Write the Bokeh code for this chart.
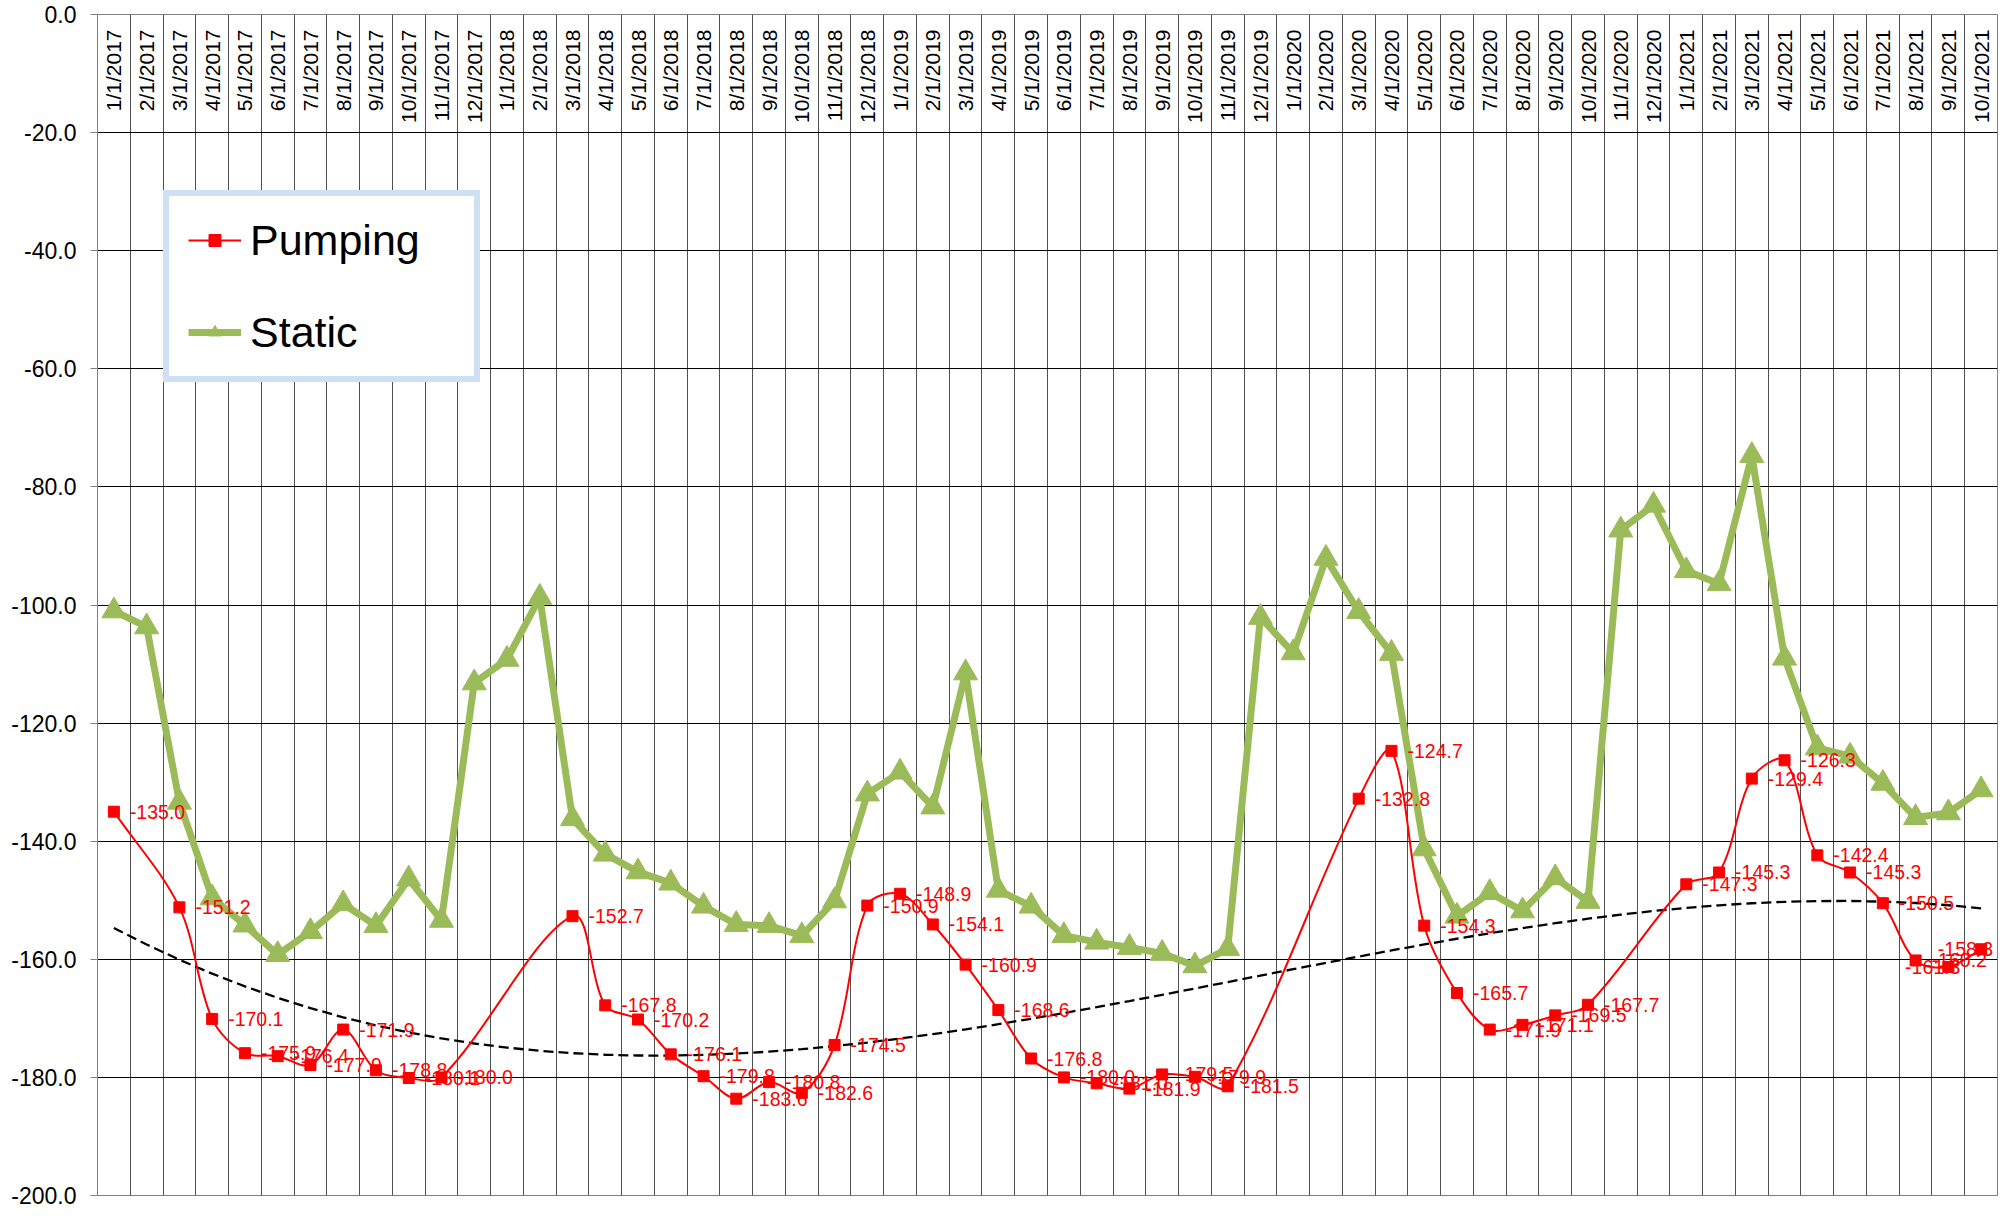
import numpy as np
from bokeh.plotting import figure
from bokeh.models import (FactorRange, Range1d, FixedTicker, ColumnDataSource,
                          Legend, LegendItem, NumeralTickFormatter)
from bokeh.core.properties import value
from bokeh.embed import file_html
from bokeh.resources import INLINE

months = [
    "1/1/2017", "2/1/2017", "3/1/2017", "4/1/2017", "5/1/2017", "6/1/2017",
    "7/1/2017", "8/1/2017", "9/1/2017", "10/1/2017", "11/1/2017", "12/1/2017",
    "1/1/2018", "2/1/2018", "3/1/2018", "4/1/2018", "5/1/2018", "6/1/2018",
    "7/1/2018", "8/1/2018", "9/1/2018", "10/1/2018", "11/1/2018", "12/1/2018",
    "1/1/2019", "2/1/2019", "3/1/2019", "4/1/2019", "5/1/2019", "6/1/2019",
    "7/1/2019", "8/1/2019", "9/1/2019", "10/1/2019", "11/1/2019", "12/1/2019",
    "1/1/2020", "2/1/2020", "3/1/2020", "4/1/2020", "5/1/2020", "6/1/2020",
    "7/1/2020", "8/1/2020", "9/1/2020", "10/1/2020", "11/1/2020", "12/1/2020",
    "1/1/2021", "2/1/2021", "3/1/2021", "4/1/2021", "5/1/2021", "6/1/2021",
    "7/1/2021", "8/1/2021", "9/1/2021", "10/1/2021",
]

pumping = [
    -135.0, None, -151.2, -170.1, -175.9, -176.4, -177.9, -171.9, -178.8, -180.1, -180.0, None,
    None, None, -152.7, -167.8, -170.2, -176.1, -179.8, -183.6, -180.8, -182.6, -174.5, -150.9,
    -148.9, -154.1, -160.9, -168.6, -176.8, -180.0, -181.0, -181.9, -179.5, -179.9, -181.5, None,
    None, None, -132.8, -124.7, -154.3, -165.7, -171.9, -171.1, -169.5, -167.7, None, None,
    -147.3, -145.3, -129.4, -126.3, -142.4, -145.3, -150.5, -160.2, -161.3, -158.3,
]

static = [
    -101.0, -103.7, -133.4, -149.6, -154.2, -159.2, -155.3, -150.6, -154.3, -146.4, -153.4, -113.2,
    -109.2, -98.7, -136.2, -142.2, -145.2, -147.1, -151.0, -154.1, -154.3, -156.0, -150.1, -132.0,
    -128.3, -134.2, -111.5, -148.3, -151.0, -156.0, -157.1, -158.0, -159.0, -161.1, -158.2, -102.1,
    -108.1, -92.1, -101.1, -108.2, -141.3, -152.7, -148.7, -151.8, -146.2, -150.2, -87.3, -83.1,
    -94.2, -96.4, -74.7, -109.0, -124.2, -125.6, -130.2, -136.0, -135.2, -131.3,
]

y_ticks = [0, -20, -40, -60, -80, -100, -120, -140, -160, -180, -200]

FONT = "Liberation Sans"
RED = "#ff0000"
GREEN = "#9bbb59"

W, H = 2001, 1211
BL, BR, BT, BB = 97, 4, 14, 16
n = len(months)

# pumping points that exist (Excel connects across the gaps)
p_idx = [i for i, v in enumerate(pumping) if v is not None]
p_src = ColumnDataSource(dict(
    x=[months[i] for i in p_idx],
    y=[pumping[i] for i in p_idx],
    lbl=["%.1f" % pumping[i] for i in p_idx],
))
# labels at the right edge are right-aligned so they stay inside the plot
edge = [k for k, i in enumerate(p_idx) if i >= n - 2]
main = [k for k, i in enumerate(p_idx) if i < n - 2]
def subset(keys):
    return ColumnDataSource(dict(x=[p_src.data["x"][k] for k in keys],
                                 y=[p_src.data["y"][k] for k in keys],
                                 lbl=[p_src.data["lbl"][k] for k in keys]))
lab_main = subset(main)
lab_edge = subset(edge)

# smoothed connector (Excel "smoothed line"): cubic Bezier segments whose control
# points follow the neighbouring points, weighted by on-screen segment lengths.
# x is the categorical range's own synthetic coordinate (factor i centred at i + 0.5).
P = np.array([[i + 0.5, pumping[i]] for i in p_idx], dtype=float)
px_per = np.array([(W - BL - BR) / n, (H - BT - BB) / 200.0])
m = len(P)
tension = 1.0 / 3.0
left_c = np.zeros_like(P)
right_c = np.zeros_like(P)
for k in range(m):
    a = P[k - 1] if k > 0 else P[k]
    c = P[k + 1] if k + 1 < m else P[k]
    d1 = np.hypot(*((P[k] - a) * px_per))
    d2 = np.hypot(*((c - P[k]) * px_per))
    tot = d1 + d2 if d1 + d2 > 0 else 1.0
    tang = c - a
    left_c[k] = P[k] - tension * d1 / tot * tang
    right_c[k] = P[k] + tension * d2 / tot * tang
bz_src = ColumnDataSource(dict(
    x0=P[:-1, 0], y0=P[:-1, 1], x1=P[1:, 0], y1=P[1:, 1],
    cx0=right_c[:-1, 0], cy0=right_c[:-1, 1], cx1=left_c[1:, 0], cy1=left_c[1:, 1]))

s_src = ColumnDataSource(dict(x=months, y=static))

# polynomial trendline of the pumping series (Excel style, x = 1..n)
xv = np.array(p_idx, dtype=float) + 1
yv = np.array([pumping[i] for i in p_idx], dtype=float)
coef = np.polyfit(xv, yv, 3)
t_src = ColumnDataSource(dict(x=months, y=np.polyval(coef, np.arange(1, n + 1))))

p = figure(width=W, height=H,
           x_range=FactorRange(factors=months),
           y_range=Range1d(-200, 0),
           output_backend="svg", toolbar_location=None,
           min_border_left=BL, min_border_right=BR,
           min_border_top=BT, min_border_bottom=BB)
p.background_fill_color = "white"
p.border_fill_color = "white"
p.outline_line_color = "#808080"
p.outline_line_width = 1

p.xaxis.visible = False
p.xgrid.ticker = FixedTicker(ticks=list(range(0, n + 1)))
p.xgrid.grid_line_color = "#505050"
p.xgrid.grid_line_width = 1

p.yaxis.ticker = FixedTicker(ticks=y_ticks)
p.yaxis.formatter = NumeralTickFormatter(format="0.0")
p.yaxis.major_label_text_font = FONT
p.yaxis.major_label_text_font_size = "23px"
p.yaxis.major_label_text_color = "black"
p.yaxis.axis_line_color = "#808080"
p.yaxis.major_tick_line_color = "#808080"
p.yaxis.major_tick_out = 7
p.yaxis.major_tick_in = 0
p.yaxis.minor_tick_line_color = None
p.yaxis.major_label_standoff = 14
p.ygrid.ticker = FixedTicker(ticks=y_ticks)
p.ygrid.grid_line_color = "#000000"
p.ygrid.grid_line_width = 1

# category labels inside the top of the plot, rotated
p.text(x=months, y=[0] * n, text=months, angle=np.pi / 2,
       text_align="right", text_baseline="middle", y_offset=15,
       text_font=value(FONT), text_font_size="21px", text_color="black")

p.line(x="x", y="y", source=t_src, line_color="black", line_width=2.3, line_dash="10 5")

s_line = p.line(x="x", y="y", source=s_src, line_color=GREEN, line_width=7)
s_mark = p.scatter(x="x", y="y", source=s_src, marker="triangle", size=24,
                   fill_color=GREEN, line_color=GREEN)

p_line = p.bezier(x0="x0", y0="y0", x1="x1", y1="y1", cx0="cx0", cy0="cy0",
                  cx1="cx1", cy1="cy1", source=bz_src, line_color=RED, line_width=2)
p_mark = p.scatter(x="x", y="y", source=p_src, marker="square", size=11,
                   fill_color=RED, line_color=RED)

p.text(x="x", y="y", text="lbl", source=lab_main, x_offset=16,
       text_align="left", text_baseline="middle",
       text_font=value(FONT), text_font_size="19.5px", text_color=RED)
p.text(x="x", y="y", text="lbl", source=lab_edge, x_offset=12,
       text_align="right", text_baseline="middle",
       text_font=value(FONT), text_font_size="19.5px", text_color=RED)

legend = Legend(items=[LegendItem(label="Pumping", renderers=[p_line, p_mark]),
                       LegendItem(label="Static", renderers=[s_line, s_mark])],
                location=(66, 813))
legend.label_text_font = FONT
legend.label_text_font_size = "43px"
legend.label_text_color = "black"
legend.glyph_width = 53
legend.glyph_height = 30
legend.label_standoff = 9
legend.label_height = 50
legend.label_width = 205
legend.spacing = 42
legend.padding = 19
legend.border_line_color = "#9fc0ea"
legend.border_line_width = 6
legend.background_fill_color = "white"
legend.background_fill_alpha = 1
p.add_layout(legend)

open("out.html", "w").write(file_html(p, INLINE))
